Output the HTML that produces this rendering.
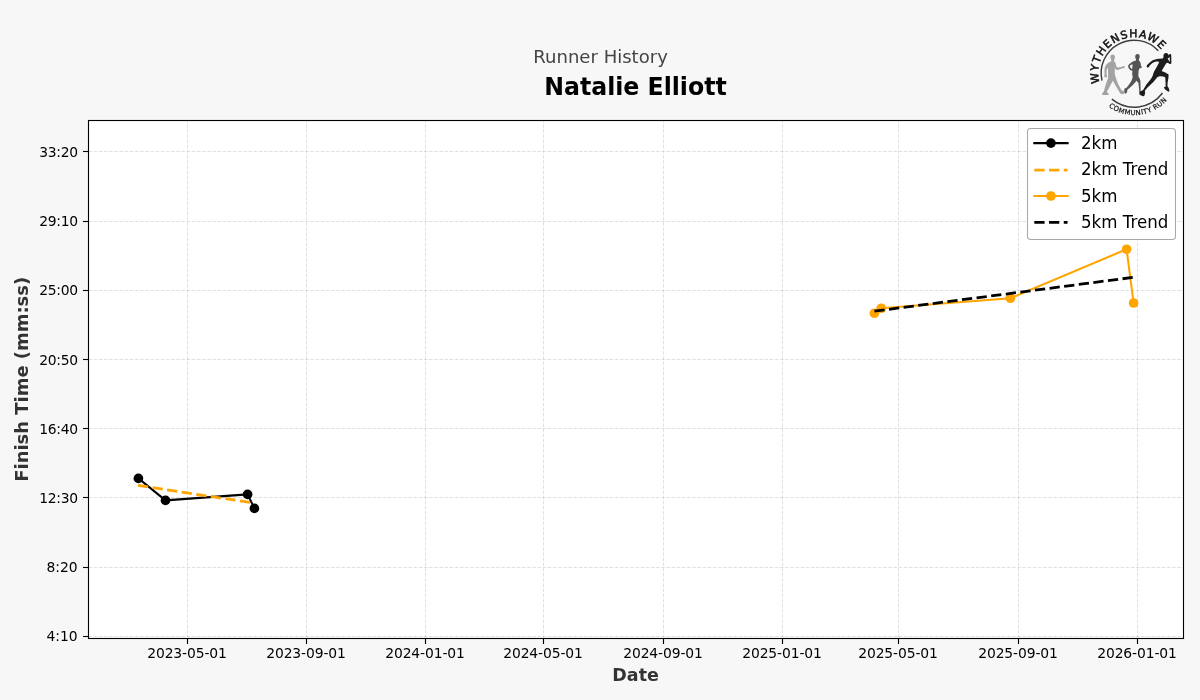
<!DOCTYPE html>
<html lang="en"><head><meta charset="utf-8"><title>Runner History</title>
<style>
html,body{margin:0;padding:0;background:#f7f7f7;overflow:hidden}
svg{display:block;will-change:transform}
text{font-family:"DejaVu Sans","Liberation Sans",sans-serif}
.tk{font-size:13.89px;fill:#000}
.lg{font-size:16.67px;fill:#000}
</style></head><body>
<svg width="1200" height="700" viewBox="0 0 1200 700">
<rect x="0" y="0" width="1200" height="700" fill="#f7f7f7"/>
<rect x="88.5" y="120.5" width="1095" height="518" fill="#fff"/>
<g stroke="#b0b0b0" stroke-opacity="0.4" stroke-width="0.97" stroke-dasharray="3.6 1.56" fill="none">
<path d="M187.5 638.5V120.5"/><path d="M306.5 638.5V120.5"/><path d="M425.5 638.5V120.5"/><path d="M543.5 638.5V120.5"/><path d="M663.5 638.5V120.5"/><path d="M782.5 638.5V120.5"/><path d="M898.5 638.5V120.5"/><path d="M1018.5 638.5V120.5"/><path d="M1137.5 638.5V120.5"/><path d="M88.5 151.5H1183.5"/><path d="M88.5 221.5H1183.5"/><path d="M88.5 290.5H1183.5"/><path d="M88.5 359.5H1183.5"/><path d="M88.5 428.5H1183.5"/><path d="M88.5 497.5H1183.5"/><path d="M88.5 567.5H1183.5"/><path d="M88.5 636.5H1183.5"/>
</g>
<g stroke="#000" stroke-width="1.11" fill="none">
<path d="M187.5 638.5v5.5"/><path d="M306.5 638.5v5.5"/><path d="M425.5 638.5v5.5"/><path d="M543.5 638.5v5.5"/><path d="M663.5 638.5v5.5"/><path d="M782.5 638.5v5.5"/><path d="M898.5 638.5v5.5"/><path d="M1018.5 638.5v5.5"/><path d="M1137.5 638.5v5.5"/><path d="M88.5 151.5h-5.5"/><path d="M88.5 221.5h-5.5"/><path d="M88.5 290.5h-5.5"/><path d="M88.5 359.5h-5.5"/><path d="M88.5 428.5h-5.5"/><path d="M88.5 497.5h-5.5"/><path d="M88.5 567.5h-5.5"/><path d="M88.5 636.5h-5.5"/>
</g>
<g class="tk" text-anchor="middle" letter-spacing="-0.1">
<text x="187" y="658.3">2023-05-01</text><text x="306" y="658.3">2023-09-01</text><text x="425" y="658.3">2024-01-01</text><text x="543" y="658.3">2024-05-01</text><text x="663" y="658.3">2024-09-01</text><text x="782" y="658.3">2025-01-01</text><text x="898" y="658.3">2025-05-01</text><text x="1018" y="658.3">2025-09-01</text><text x="1137" y="658.3">2026-01-01</text>
</g>
<g class="tk" text-anchor="end" letter-spacing="-0.25">
<text x="77.9" y="156.7">33:20</text><text x="77.9" y="225.7">29:10</text><text x="77.9" y="294.7">25:00</text><text x="77.9" y="364.7">20:50</text><text x="77.9" y="433.7">16:40</text><text x="77.9" y="502.7">12:30</text><text x="77.7" y="571.7" letter-spacing="0">8:20</text><text x="77.7" y="640.7" letter-spacing="0">4:10</text>
</g>
<polyline points="138.4,478.4 165.5,500.4 247.6,494.4 254.4,508.4" fill="none" stroke="#000" stroke-width="2.08" stroke-linejoin="round" stroke-linecap="square"/>
<circle cx="138.4" cy="478.4" r="4.85" fill="#000"/><circle cx="165.5" cy="500.4" r="4.85" fill="#000"/><circle cx="247.6" cy="494.4" r="4.85" fill="#000"/><circle cx="254.4" cy="508.4" r="4.85" fill="#000"/>
<polyline points="138,485.4 254.4,503.1" fill="none" stroke="#ffa500" stroke-width="2.78" stroke-dasharray="10.28 4.44"/>
<polyline points="874.4,313.25 881.3,308.25 1010.4,298.25 1126.6,249.25 1133.6,303" fill="none" stroke="#ffa500" stroke-width="2.08" stroke-linejoin="round" stroke-linecap="square"/>
<circle cx="874.4" cy="313.25" r="4.85" fill="#ffa500"/><circle cx="881.3" cy="308.25" r="4.85" fill="#ffa500"/><circle cx="1010.4" cy="298.25" r="4.85" fill="#ffa500"/><circle cx="1126.6" cy="249.25" r="4.85" fill="#ffa500"/><circle cx="1133.6" cy="303" r="4.85" fill="#ffa500"/>
<polyline points="874.4,311.2 1133.6,277.3" fill="none" stroke="#000" stroke-width="2.78" stroke-dasharray="10.28 4.44"/>
<rect x="88.5" y="120.5" width="1095" height="518" fill="none" stroke="#000" stroke-width="1.11"/>
<rect x="1027.5" y="128.5" width="148" height="111" rx="3.3" ry="3.3" fill="#fff" fill-opacity="0.95" stroke="#a8a8a8" stroke-width="1.05"/>
<path d="M1034.3 143.1H1067.6" stroke="#000" stroke-width="2.08" stroke-linecap="square"/><circle cx="1050.95" cy="143.1" r="4.85" fill="#000"/>
<path d="M1034.3 170.2H1067.6" stroke="#ffa500" stroke-width="2.78" stroke-dasharray="10.28 4.44"/>
<path d="M1034.3 196H1067.6" stroke="#ffa500" stroke-width="2.08" stroke-linecap="square"/><circle cx="1050.95" cy="196" r="4.85" fill="#ffa500"/>
<path d="M1034.3 222.3H1067.6" stroke="#000" stroke-width="2.78" stroke-dasharray="10.28 4.44"/>
<text class="lg" transform="translate(1080.9,148.9) scale(1,1.1)">2km</text><text class="lg" transform="translate(1080.9,175) scale(1,1.1)">2km Trend</text><text class="lg" transform="translate(1080.9,201.9) scale(1,1.1)">5km</text><text class="lg" transform="translate(1080.9,228) scale(1,1.1)">5km Trend</text>
<text x="600.6" y="63.3" text-anchor="middle" font-size="18.06px" fill="#444">Runner History</text>
<text transform="translate(635.5,95) scale(1,1.04)" text-anchor="middle" font-size="23.61px" font-weight="bold" fill="#000">Natalie Elliott</text>
<text transform="translate(635.6,681) scale(1,1.034)" text-anchor="middle" font-size="17.47px" font-weight="bold" fill="#333">Date</text>
<text transform="translate(27.6,379.3) rotate(-90) scale(1,1.02)" text-anchor="middle" font-size="17.95px" font-weight="bold" fill="#333">Finish Time (mm:ss)</text>
<g id="logo">
<defs><path id="arcTop" d="M1120.52 106.39A35.9 35.9 0 1 1 1169.22 80.82"/><path id="arcBot" d="M1094.56 54.70A43.3 43.3 0 1 0 1169.06 46.08"/></defs>
<path d="M1101.99 80.59A33 33 0 0 1 1158.27 50.66" fill="none" stroke="#3c3c3c" stroke-width="1.45"/>
<path d="M1111.87 99.12A35.27 35.27 0 0 0 1162.54 93.03" fill="none" stroke="#3c3c3c" stroke-width="1.45"/>
<text font-family="'Liberation Sans',sans-serif" font-size="10.9px" fill="#111" stroke="#111" stroke-width="0.5" text-anchor="middle" letter-spacing="1.0"><textPath href="#arcTop" startOffset="50%">WYTHENSHAWE</textPath></text>
<text font-family="'Liberation Sans',sans-serif" font-size="6.9px" fill="#111" stroke="#111" stroke-width="0.2" text-anchor="middle" letter-spacing="0.38"><textPath href="#arcBot" startOffset="50%">COMMUNITY RUN</textPath></text>
<path transform="translate(1098,50) scale(0.06857)" fill="#a3a3a3" fill-rule="evenodd" d="M214,66 C240,66 250,88 247,108 C245,125 238,138 232,146 L236,165 C246,172 254,185 258,200 C262,220 268,240 278,255 L345,248 C355,236 368,230 380,232 C392,236 394,250 386,260 C376,268 362,270 350,270 L285,290 C272,292 262,288 256,278 L246,255 L244,330 C246,360 252,385 262,410 C272,440 280,465 290,490 L340,585 C355,592 372,598 382,606 C392,616 388,634 375,640 L340,642 C330,640 322,632 318,625 L262,530 L215,447 L178,520 L128,612 C140,620 152,630 157,642 C160,652 155,656 148,656 L66,656 C56,652 58,640 64,630 C70,620 78,612 85,605 L112,505 C125,470 140,435 148,400 L146,330 C146,310 146,290 148,270 L140,262 L124,300 L126,360 C134,375 134,392 122,400 C110,406 96,400 92,388 C88,376 92,362 96,352 L94,300 C96,270 100,245 110,228 C120,210 135,195 150,185 C168,175 186,168 197,152 C192,140 184,125 181,110 C176,88 190,66 214,66 Z"/>
<path transform="translate(1118,50) scale(0.06857)" fill="#555" fill-rule="evenodd" d="M285,57 C315,57 322,85 315,110 C312,125 305,135 303,150 L318,168 C332,185 335,215 335,232 C350,235 352,255 340,262 C325,270 318,262 318,262 L300,300 L297,385 C315,410 330,440 328,470 L330,600 C360,600 385,620 380,665 L320,660 C305,640 308,615 310,600 L298,480 L270,450 C250,470 230,500 205,520 L135,585 C140,605 125,635 110,638 C90,625 88,585 95,560 L120,555 C150,520 180,480 200,440 L215,390 C205,360 205,330 212,305 L185,297 C165,280 150,260 147,240 C145,215 175,195 200,177 C225,165 255,160 265,150 C262,135 255,125 252,110 C245,80 260,57 285,57 Z M190,215 C175,225 170,240 175,250 L205,280 C210,265 208,235 215,210 Z"/>
<path transform="translate(1138,48) scale(0.07143)" fill="#1c1c1c" fill-rule="evenodd" d="M392,70 C415,70 430,86 428,104 L440,86 C448,80 462,82 465,95 L468,205 C466,222 452,228 440,220 L415,205 L395,215 L360,272 L330,322 C365,332 400,350 428,372 C430,400 422,450 415,480 L412,535 C425,548 436,570 440,598 C438,610 430,614 422,610 C400,602 378,580 362,558 C364,550 376,544 388,540 L385,470 L382,415 L375,405 C350,395 325,392 300,396 L270,410 L215,475 L130,555 L95,600 C100,615 100,630 98,640 C96,655 90,668 80,675 C68,676 58,672 50,665 C38,655 28,642 22,630 C24,618 32,610 40,605 L72,588 L115,515 L175,440 C190,420 200,405 205,390 L222,335 L262,265 L298,196 C290,186 270,186 250,190 C225,196 205,208 190,222 C175,236 160,252 148,268 C140,278 126,276 122,262 C120,250 126,240 135,232 C150,215 170,195 195,178 C220,162 255,152 290,150 L345,148 C354,142 358,128 357,115 C352,92 368,70 392,70 Z M415,150 L443,125 L447,195 Z"/>
</g>
</svg>
</body></html>
